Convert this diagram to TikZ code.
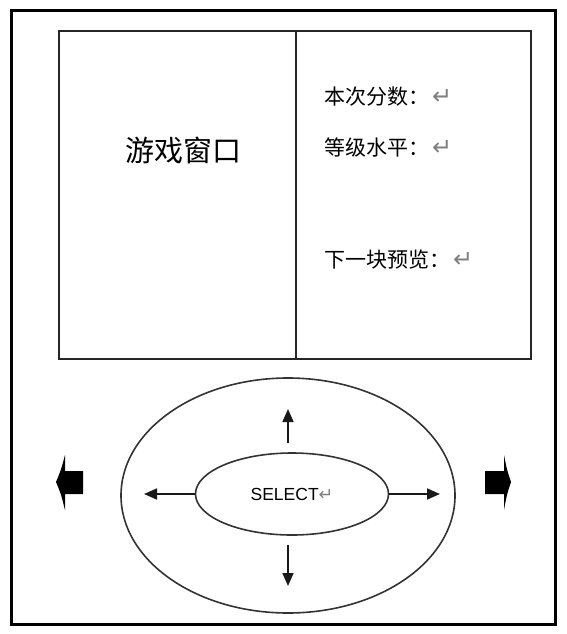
\documentclass[tikz,border=0pt]{standalone}
\usepackage{fontspec}
\setmainfont{Liberation Sans}
\newfontfamily\cjk{Noto Sans CJK SC}
\newfontfamily\sym{DejaVu Sans}
\usetikzlibrary{shapes.geometric}
\usetikzlibrary{arrows.meta}
\newcommand{\ret}{{\sym\color{gray}\char"21B5}}

\begin{document}
\begin{tikzpicture}[x=1pt,y=-1pt,
	frame/.style={draw=black,line width=3pt},
	panel/.style={draw=black!85,line width=1.6pt,inner sep=0pt,anchor=north west},
	pad/.style={draw=black!80,line width=1.6pt},
	move/.style={-{Triangle[length=13pt,width=11pt]},line width=1.7pt,black!90},
	info/.style={anchor=west,inner sep=0pt,font=\cjk\fontsize{21}{25}\selectfont}]
\useasboundingbox (0,0) rectangle (566,634);
\draw[frame] (11,11) rectangle (555,624);
% screen
\node[panel,minimum width=237pt,minimum height=328pt] (game) at (58,30) {};
\node[panel,minimum width=235pt,minimum height=328pt] (side) at (295,30) {};
\node[font=\cjk\fontsize{29}{34}\selectfont] (title) at (183,150) {游戏窗口};
\node[info] (score) at (324,97) {本次分数：\hspace{3pt}{\fontsize{24}{25}\selectfont\ret}};
\node[info] (level) at (324,147) {等级水平：\hspace{3pt}{\fontsize{24}{25}\selectfont\ret}};
\node[info] (next) at (324,260) {下一块预览：\hspace{3pt}{\fontsize{24}{25}\selectfont\ret}};
% keys
\draw[pad] (288,495.5) ellipse [x radius=167, y radius=117.5];
\node[pad,ellipse,minimum width=193pt,minimum height=82pt,inner sep=0pt,
	font=\fontsize{17.5}{20}\selectfont] (select) at (292,494) {SELECT\ret};
\coordinate (up) at (288,409);
\coordinate (down) at (288,586);
\coordinate (left) at (144,494);
\coordinate (right) at (440,494);
\draw[move] (288,443) -- (up);
\draw[move] (288,545) -- (down);
\draw[move] (select.west) -- (left);
\draw[move] (select.east) -- (right);
% side buttons
\fill[black] (56,482) .. controls (61,470) .. (65,455) -- (65,471) -- (83,471) -- (83,494)
	-- (65,494) -- (65,510) .. controls (61,494) .. cycle;
\fill[black] (511,482) .. controls (507,470) .. (504,455) -- (504,471) -- (485,471) -- (485,494)
	-- (504,494) -- (504,510) .. controls (507,494) .. cycle;
\end{tikzpicture}
\end{document}
